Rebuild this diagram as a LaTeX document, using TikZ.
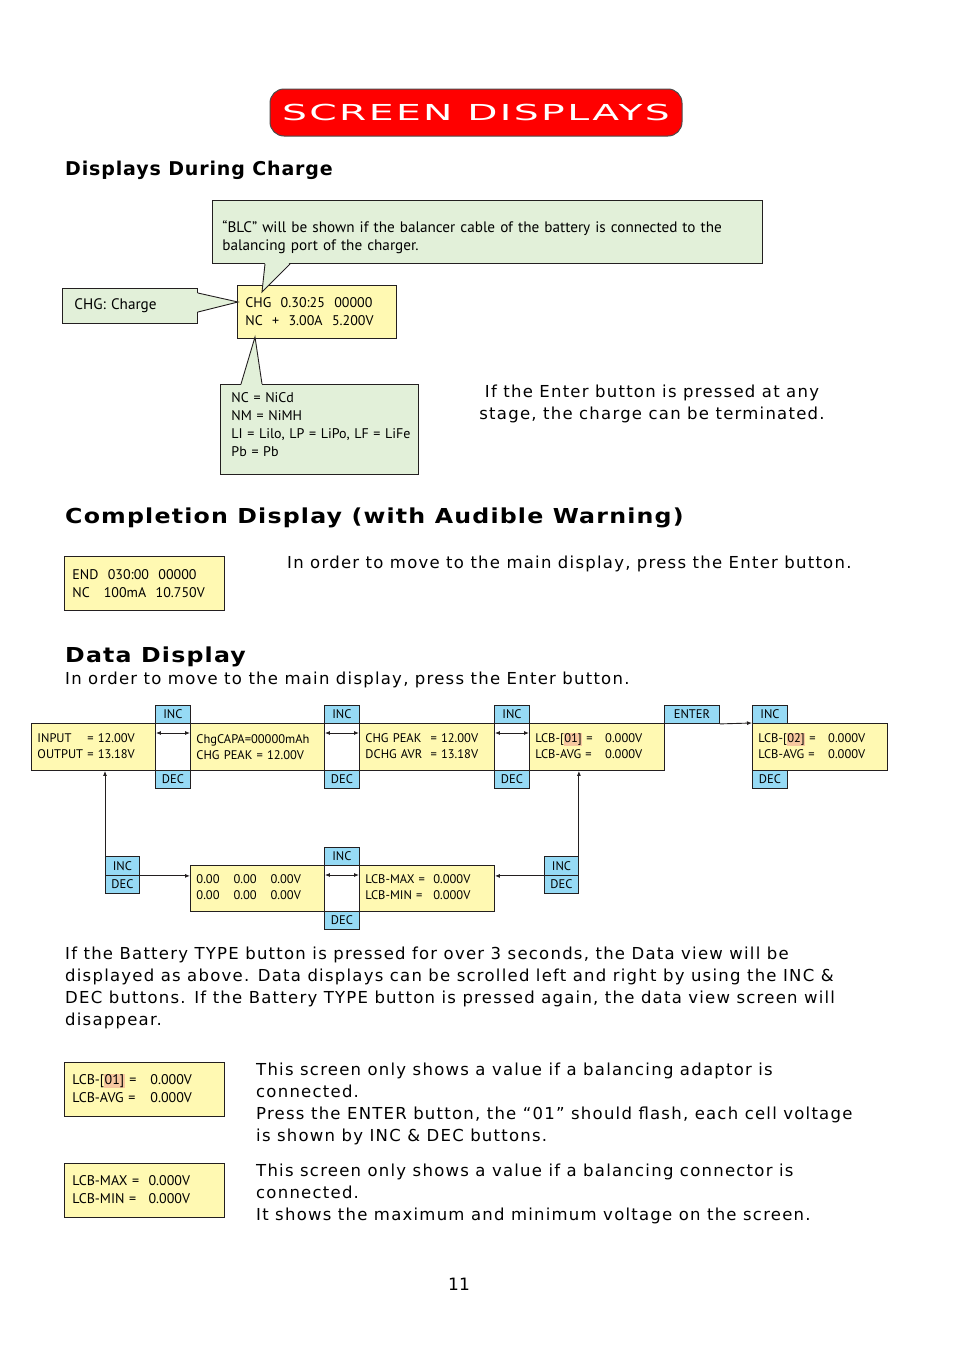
\documentclass[tikz,border=0pt]{standalone}
\usepackage{fontspec}
\usepackage{graphicx}
\setmainfont{DejaVu Sans}
\newfontfamily\boxfont{PT Sans}
\newfontfamily\headfont[LetterSpace=5]{DejaVu Sans}
\newfontfamily\subheadfont[LetterSpace=4.5]{DejaVu Sans}
\newfontfamily\bodyfont[LetterSpace=7.5]{DejaVu Sans}
\newfontfamily\titlefont[LetterSpace=6]{DejaVu Sans}
\usetikzlibrary{arrows.meta}

\definecolor{lcdyellow}{RGB}{255,249,178}
\definecolor{notegreen}{RGB}{226,240,217}
\definecolor{keyblue}{RGB}{150,218,245}
\definecolor{hlorange}{RGB}{247,200,160}
\definecolor{edge}{RGB}{35,31,32}
\definecolor{titlered}{RGB}{255,0,0}

\newcommand{\hlt}[1]{{\setlength{\fboxsep}{0.5pt}\colorbox{hlorange}{\vphantom{[]}#1}}}

\tikzset{
  lcd/.style={draw=edge, fill=lcdyellow, line width=0.9pt, anchor=north west,
    inner xsep=8pt, inner ysep=0pt, align=left, font=\boxfont\fontsize{14}{18}\selectfont},
  lcdsmall/.style={lcd, inner xsep=6pt, font=\boxfont\fontsize{12.5}{16}\selectfont},
  note/.style={lcd, fill=notegreen, font=\boxfont\fontsize{15.2}{18.5}\selectfont},
  key/.style={draw=edge, fill=keyblue, line width=0.9pt, anchor=north west, inner sep=0pt,
    minimum width=35pt, minimum height=18pt, font=\boxfont\fontsize{12.5}{15}\selectfont},
  arr/.style={draw=edge, line width=0.9pt, -{Latex[length=5pt,width=4pt]}},
  dbl/.style={arr, {Latex[length=5pt,width=4pt]}-{Latex[length=5pt,width=4pt]}},
  body/.style={anchor=base west, inner sep=0pt, align=left, font=\bodyfont\fontsize{16.5}{22}\selectfont},
  head/.style={anchor=base west, inner sep=0pt, font=\headfont\bfseries\fontsize{20.6}{24}\selectfont},
}

\begin{document}
\begin{tikzpicture}[x=1pt, y=-1pt]
  \fill[white] (0,0) rectangle (954,1354);
  \useasboundingbox (0,0) rectangle (954,1354);

  % title bar
  \node (title) [draw=black!70, line width=1pt, fill=titlered, rounded corners=14pt,
    minimum width=412pt, minimum height=47pt] at (476,112.5)
    {\color{white}\titlefont\fontsize{22}{22}\selectfont\scalebox{1.785}[1]{SCREEN DISPLAYS}};

  % charge display
  \node (hcharge) [anchor=base west, inner sep=0pt, font=\subheadfont\bfseries\fontsize{19}{22}\selectfont]
    at (65,175) {Displays During Charge};

  \node (chg) [lcd, text width=143pt, minimum height=53pt] at (237,285)
    {CHG~~0.30:25~~00000\\ NC~~+~~3.00A~~5.200V};

  \node (blc) [note, inner xsep=10pt, text width=530pt, minimum height=63pt] at (212,200)
    {\rule{0pt}{22pt}“BLC” will be shown if the balancer cable of the battery is connected to the\\
     balancing port of the charger.};
  \node (chgnote) [note, inner xsep=12pt, text width=111pt, minimum height=35pt] at (62,288)
    {CHG: Charge};
  \node (types) [note, inner xsep=11pt, text width=176pt, minimum height=90pt,
    font=\boxfont\fontsize{14}{18}\selectfont] at (220,384)
    {NC = NiCd\\ NM = NiMH\\ \mbox{LI = Lilo, LP = LiPo, LF = LiFe}\\ Pb = Pb\rule[-9pt]{0pt}{0pt}};

  \path (blc.south west) ++(53,0) coordinate (blcl) ++(25,0) coordinate (blcr);
  \coordinate (blctip) at (262,292);
  \fill[notegreen] ([yshift=1.5pt]blcl) -- (blctip) -- ([yshift=1.5pt]blcr) -- cycle;
  \draw[edge, line width=0.9pt] (blcl) -- (blctip) -- (blcr);

  \path (chgnote.north east) ++(0,5) coordinate (chga) ++(0,19) coordinate (chgb);
  \coordinate (chgtip) at (238,302);
  \fill[notegreen] ([xshift=-1.5pt]chga) -- (chgtip) -- ([xshift=-1.5pt]chgb) -- cycle;
  \draw[edge, line width=0.9pt] (chga) -- (chgtip) -- (chgb);

  \path (types.north west) ++(21,0) coordinate (typa) ++(21,0) coordinate (typb);
  \coordinate (typtip) at (255,337);
  \fill[notegreen] ([yshift=-1.5pt]typa) -- (typtip) -- ([yshift=-1.5pt]typb) -- cycle;
  \draw[edge, line width=0.9pt] (typa) -- (typtip) -- (typb);

  \node (stopnote) [body, anchor=base, align=center] at (652,419)
    {If the Enter button is pressed at any\\ stage, the charge can be terminated.};

  % completion display
  \node (hcomplete) [head] at (65,523) {\scalebox{1.15}[1]{Completion Display (with Audible Warning)}};
  \node (endbox) [lcd, text width=144pt, minimum height=54pt] at (64,556)
    {END~~030:00~~00000\\ NC~~~100mA~~10.750V};
  \node (endhint) [body] at (287,568)
    {In order to move to the main display, press the Enter button.};

  % data display
  \node (hdata) [head] at (65,662) {\scalebox{1.15}[1]{Data Display}};
  \node (datahint) [body] at (65,684)
    {In order to move to the main display, press the Enter button.};

  \node (inp) [lcdsmall, text width=112pt, minimum height=47pt] at (31,723)
    {\begin{tabular}{@{}l@{ }l@{}}INPUT & = 12.00V\\ OUTPUT & = 13.18V\end{tabular}};
  \node (capa) [lcdsmall, text width=122pt, minimum height=47pt] at (190,723)
    {ChgCAPA=00000mAh\\ CHG PEAK = 12.00V};
  \node (peak) [lcdsmall, text width=123pt, minimum height=47pt] at (359,723)
    {\begin{tabular}{@{}l@{~~}l@{}}CHG PEAK & = 12.00V\\ DCHG AVR & = 13.18V\end{tabular}};
  \node (lcba) [lcdsmall, text width=123pt, minimum height=47pt] at (529,723)
    {\begin{tabular}{@{}l@{~~~}l@{}}LCB-[\hlt{01]} = & 0.000V\\ LCB-AVG = & 0.000V\end{tabular}};
  \node (lcbb) [lcdsmall, text width=123pt, minimum height=47pt] at (752,723)
    {\begin{tabular}{@{}l@{~~~}l@{}}LCB-[\hlt{02]} = & 0.000V\\ LCB-AVG = & 0.000V\end{tabular}};

  \node (inca) [key] at (155,705) {INC};
  \node (deca) [key] at (155,770) {DEC};
  \node (incb) [key] at (324,705) {INC};
  \node (decb) [key] at (324,770) {DEC};
  \node (incc) [key] at (494,705) {INC};
  \node (decc) [key] at (494,770) {DEC};
  \node (enter) [key, minimum width=55pt] at (664,705) {ENTER};
  \node (incd) [key] at (752,705) {INC};
  \node (decd) [key] at (752,770) {DEC};

  \node (cells) [lcdsmall, text width=122pt, minimum height=46pt] at (190,865)
    {\begin{tabular}{@{}l@{\hspace{14pt}}l@{\hspace{14pt}}l@{}}0.00 & 0.00 & 0.00V\\ 0.00 & 0.00 & 0.00V\end{tabular}};
  \node (maxmin) [lcdsmall, text width=123pt, minimum height=46pt] at (359,865)
    {\begin{tabular}{@{}l@{~~}l@{}}LCB-MAX = & 0.000V\\ LCB-MIN = & 0.000V\end{tabular}};
  \node (ince) [key] at (324,847) {INC};
  \node (dece) [key] at (324,911) {DEC};
  \node (incl) [key, minimum width=34pt, minimum height=19pt] at (105,856) {INC};
  \node (decl) [key, minimum width=34pt] at (105,875) {DEC};
  \node (incr) [key, minimum width=34pt, minimum height=19pt] at (544,856) {INC};
  \node (decr) [key, minimum width=34pt] at (544,875) {DEC};

  \draw[dbl] ([yshift=-10pt]inp.north east) -- ([yshift=-10pt]capa.north west);
  \draw[dbl] ([yshift=-10pt]capa.north east) -- ([yshift=-10pt]peak.north west);
  \draw[dbl] ([yshift=-10pt]peak.north east) -- ([yshift=-10pt]lcba.north west);
  \draw[dbl] ([yshift=-10pt]cells.north east) -- ([yshift=-10pt]maxmin.north west);
  \draw[arr] (enter.south east) -- (lcbb.north west);
  \draw[arr] (incl.north west) -- (incl.north west |- inp.south);
  \draw[arr] (incl.south east) -- (incl.south east -| cells.west);
  \draw[arr] (incr.north east) -- (incr.north east |- lcba.south);
  \draw[arr] (incr.south west) -- (incr.south west -| maxmin.east);

  \node (datatext) [body] at (65,1025)
    {If the Battery TYPE button is pressed for over 3 seconds, the Data view will be\\
     displayed as above. Data displays can be scrolled left and right by using the INC \&\\
     DEC buttons. If the Battery TYPE button is pressed again, the data view screen will\\
     disappear.};

  % balancer screens
  \node (lcbone) [lcd, text width=144pt, minimum height=54pt] at (64,1062)
    {\begin{tabular}{@{}l@{~~~}l@{}}LCB-[\hlt{01]} = & 0.000V\\ LCB-AVG = & 0.000V\end{tabular}};
  \node (lcbonetext) [body] at (256,1141)
    {This screen only shows a value if a balancing adaptor is\\ connected.\\
     Press the ENTER button, the “01” should flash, each cell voltage\\
     is shown by INC \& DEC buttons.};
  \node (lcbmax) [lcd, text width=144pt, minimum height=54pt] at (64,1163)
    {\begin{tabular}{@{}l@{~~}l@{}}LCB-MAX = & 0.000V\\ LCB-MIN = & 0.000V\end{tabular}};
  \node (lcbmaxtext) [body] at (256,1220)
    {This screen only shows a value if a balancing connector is\\ connected.\\
     It shows the maximum and minimum voltage on the screen.};

  \node (pagenum) [anchor=base, inner sep=0pt, font=\fontsize{17}{20}\selectfont] at (459,1290) {11};
\end{tikzpicture}
\end{document}
